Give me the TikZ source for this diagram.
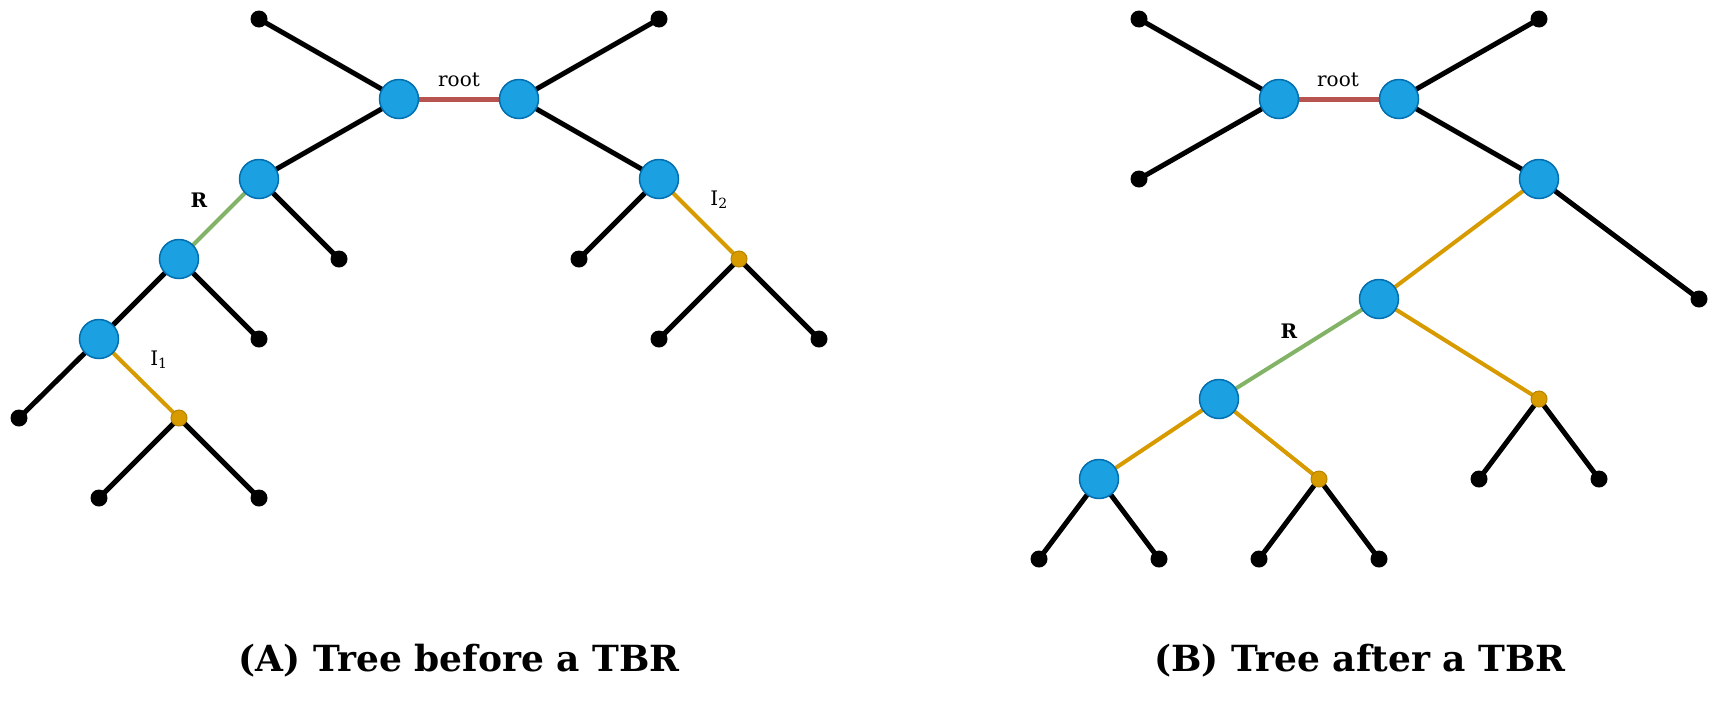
\documentclass[tikz,border=0pt]{standalone}
\usepackage{fontspec}
\setmainfont{DejaVu Serif}
\usetikzlibrary{positioning,backgrounds}
\definecolor{hubblue}{HTML}{1BA1E2}
\definecolor{hubline}{HTML}{006EAF}
\definecolor{rootred}{HTML}{B85450}
\definecolor{prunegreen}{HTML}{82B366}
\definecolor{graftorange}{HTML}{D79B00}

\begin{document}
\begin{tikzpicture}[x=1pt, y=-1pt,
  inn/.style={circle, draw=hubline, line width=1.5pt, fill=hubblue, minimum size=39pt, inner sep=0pt},
  lf/.style={circle, fill=black, minimum size=17pt, inner sep=0pt},
  att/.style={circle, draw=graftorange!85!black, line width=1pt, fill=graftorange, minimum size=16pt, inner sep=0pt},
  br/.style={line width=5pt, black},
  rt/.style={line width=5pt, rootred},
  rg/.style={line width=4pt, prunegreen},
  ro/.style={line width=4pt, graftorange},
  lbl/.style={font=\fontsize{20}{24}\selectfont},
  captxt/.style={font=\bfseries\fontsize{36}{42}\selectfont}]
  \useasboundingbox (0,0) rectangle (1720,702);
  % (A) before
  \node[lf] (a-tl) at (259,19) {};
  \node[inn] (a-l) at (399,99) {};
  \node[inn] (a-r) at (519,99) {};
  \node[lf] (a-tr) at (659,19) {};
  \node[inn] (a-1) at (259,179) {};
  \node[lf] (a-1x) at (339,259) {};
  \node[inn] (a-2) at (179,259) {};
  \node[lf] (a-2x) at (259,339) {};
  \node[inn] (a-3) at (99,339) {};
  \node[lf] (a-3x) at (19,418) {};
  \node[att] (a-o1) at (179,418) {};
  \node[lf] (a-o1l) at (99,498) {};
  \node[lf] (a-o1r) at (259,498) {};
  \node[inn] (a-4) at (659,179) {};
  \node[lf] (a-4x) at (579,259) {};
  \node[att] (a-o2) at (739,259) {};
  \node[lf] (a-o2l) at (659,339) {};
  \node[lf] (a-o2r) at (819,339) {};
  \begin{scope}[on background layer]
    \draw[rt] (a-l.center) -- (a-r.center);
    \draw[br] (a-tl.center) -- (a-l.center) -- (a-1.center) -- (a-1x.center);
    \draw[br] (a-tr.center) -- (a-r.center) -- (a-4.center) -- (a-4x.center);
    \draw[rg] (a-1.center) -- (a-2.center);
    \draw[br] (a-2x.center) -- (a-2.center) -- (a-3.center) -- (a-3x.center);
    \draw[ro] (a-3.center) -- (a-o1.center);
    \draw[br] (a-o1l.center) -- (a-o1.center) -- (a-o1r.center);
    \draw[ro] (a-4.center) -- (a-o2.center);
    \draw[br] (a-o2l.center) -- (a-o2.center) -- (a-o2r.center);
  \end{scope}
  \node[lbl] (a-root) at (459,80) {root};
  \node[lbl, font=\bfseries\fontsize{20}{24}\selectfont] (a-R) at (199,200) {R};
  \node[lbl] (a-I1) at (159,360) {I\textsubscript{1}};
  \node[lbl] (a-I2) at (719,200) {I\textsubscript{2}};
  % (B) after
  \node[lf] (b-tl) at (1139,19) {};
  \node[inn] (b-l) at (1279,99) {};
  \node[inn] (b-r) at (1399,99) {};
  \node[lf] (b-tr) at (1539,19) {};
  \node[lf] (b-bl) at (1139,179) {};
  \node[inn] (b-1) at (1539,179) {};
  \node[lf] (b-1x) at (1699,299) {};
  \node[inn] (b-2) at (1379,299) {};
  \node[att] (b-o1) at (1539,399) {};
  \node[lf] (b-o1l) at (1479,479) {};
  \node[lf] (b-o1r) at (1599,479) {};
  \node[inn] (b-3) at (1219,399) {};
  \node[inn] (b-4) at (1099,479) {};
  \node[lf] (b-4l) at (1039,559) {};
  \node[lf] (b-4r) at (1159,559) {};
  \node[att] (b-o2) at (1319,479) {};
  \node[lf] (b-o2l) at (1259,559) {};
  \node[lf] (b-o2r) at (1379,559) {};
  \begin{scope}[on background layer]
    \draw[rt] (b-l.center) -- (b-r.center);
    \draw[br] (b-tl.center) -- (b-l.center) -- (b-bl.center);
    \draw[br] (b-tr.center) -- (b-r.center) -- (b-1.center) -- (b-1x.center);
    \draw[ro] (b-1.center) -- (b-2.center) -- (b-o1.center);
    \draw[br] (b-o1l.center) -- (b-o1.center) -- (b-o1r.center);
    \draw[rg] (b-2.center) -- (b-3.center);
    \draw[ro] (b-4.center) -- (b-3.center) -- (b-o2.center);
    \draw[br] (b-4l.center) -- (b-4.center) -- (b-4r.center);
    \draw[br] (b-o2l.center) -- (b-o2.center) -- (b-o2r.center);
  \end{scope}
  \node[lbl] (b-root) at (1338,80) {root};
  \node[lbl, font=\bfseries\fontsize{20}{24}\selectfont] (b-R) at (1289,331) {R};
  % captions
  \node[captxt] (capA) at (459,661) {(A) Tree before a TBR};
  \node[captxt] (capB) at (1360,661) {(B) Tree after a TBR};
\end{tikzpicture}
\end{document}
